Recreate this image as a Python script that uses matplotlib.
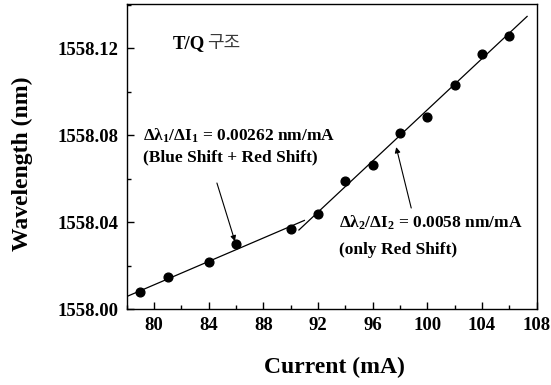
import matplotlib
matplotlib.use("Agg")
import matplotlib.pyplot as plt
from matplotlib.ticker import MultipleLocator

plt.rcParams['font.family'] = ['Liberation Serif', 'DejaVu Serif']
plt.rcParams['font.weight'] = 'bold'
plt.rcParams['mathtext.fontset'] = 'custom'
plt.rcParams['mathtext.rm'] = 'Liberation Serif:bold'
plt.rcParams['mathtext.it'] = 'Liberation Serif:bold'
plt.rcParams['mathtext.bf'] = 'Liberation Serif:bold'

# Data
current = [79, 81, 84, 86, 90, 92, 94, 96, 98, 100, 102, 104, 106]
wavelength = [1558.0077, 1558.0146, 1558.0218, 1558.0298, 1558.0369, 1558.0439,
              1558.0591, 1558.0662, 1558.0812, 1558.0883, 1558.1032, 1558.1175, 1558.1256]
fit1_x = [78.0, 91.0]
fit1_y = [1558.0058, 1558.0408]
fit2_x = [90.6, 107.3]
fit2_y = [1558.0364, 1558.1346]
xticks = [80, 84, 88, 92, 96, 100, 104, 108]
yticks = [1558.00, 1558.04, 1558.08, 1558.12]

fig = plt.figure(figsize=(5.51, 3.85), dpi=100)
ax = fig.add_axes([0.230, 0.197, 0.744, 0.792])

ax.plot(fit1_x, fit1_y, color='black', lw=0.9)
ax.plot(fit2_x, fit2_y, color='black', lw=0.9)
ax.plot(current, wavelength, 'o', color='black', markersize=6.3)

ax.set_xlim(78, 108)
ax.set_ylim(1558.00, 1558.1402)
ax.set_xticks(xticks)
ax.set_yticks(yticks)
ax.set_yticklabels([f"{v:.2f}" for v in yticks])
ax.xaxis.set_minor_locator(MultipleLocator(2))
ax.yaxis.set_minor_locator(MultipleLocator(0.02))
ax.tick_params(which='both', direction='in', top=False, right=False)
ax.tick_params(which='major', length=5, width=1, labelsize=13.5, pad=6)
ax.tick_params(which='minor', length=3, width=1)
for lab in ax.get_xticklabels() + ax.get_yticklabels():
    lab.set_fontweight('bold')
for s in ax.spines.values():
    s.set_linewidth(1.0)

ax.set_xlabel('Current (mA)', fontsize=17, fontweight='bold')
ax.set_ylabel('Wavelength (nm)', fontsize=17, fontweight='bold')
ax.xaxis.set_label_coords(0.506, -0.158)
ax.yaxis.set_label_coords(-0.229, 0.478)

ax.text(0.113, 0.872, 'T/Q', transform=ax.transAxes, fontsize=13.5,
        fontweight='bold', va='center', ha='left')
ax.text(0.196, 0.872, '구조', transform=ax.transAxes, fontsize=13,
        family='Noto Sans CJK KR', fontweight='normal', color='#3a3a3a',
        va='center', ha='left')

ax.text(79.2, 1558.0795, r'$\Delta\lambda_1/\Delta I_1$ = 0.00262 nm/mA',
        fontsize=12.5, fontweight='bold', va='center', ha='left')
ax.text(79.2, 1558.0700, '(Blue Shift + Red Shift)',
        fontsize=12.5, fontweight='bold', va='center', ha='left')
ax.text(93.55, 1558.0395, r'$\Delta\lambda_2/\Delta I_2$ = 0.0058 nm/mA',
        fontsize=12.5, fontweight='bold', va='center', ha='left')
ax.text(93.55, 1558.0272, '(only Red Shift)',
        fontsize=12.5, fontweight='bold', va='center', ha='left')

ax.annotate('', xy=(85.92, 1558.0312), xytext=(84.6, 1558.0580),
            arrowprops=dict(arrowstyle='-|>', color='black', lw=0.8,
                            mutation_scale=8, shrinkA=0, shrinkB=0))
ax.annotate('', xy=(97.72, 1558.0745), xytext=(98.82, 1558.0465),
            arrowprops=dict(arrowstyle='-|>', color='black', lw=0.8,
                            mutation_scale=8, shrinkA=0, shrinkB=0))

fig.savefig('out.png', dpi=100)
